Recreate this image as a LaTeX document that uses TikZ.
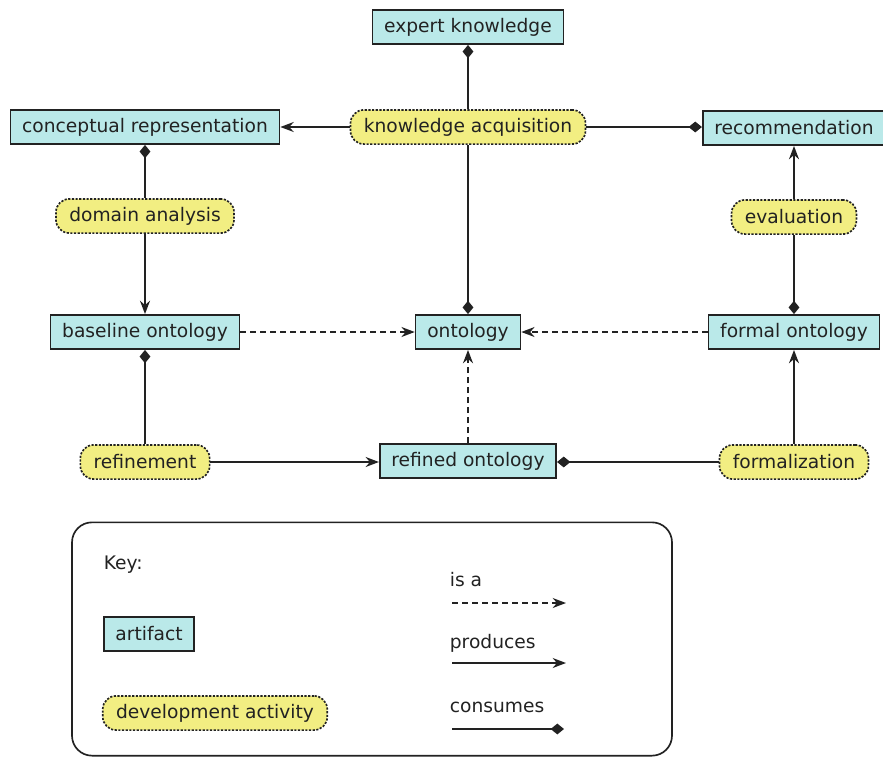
\documentclass[tikz,border=0pt]{standalone}
\usepackage{fontspec}
\setmainfont{DejaVu Sans}
\usepackage{tikz}
\usetikzlibrary{arrows.meta, positioning}
\definecolor{artfill}{HTML}{BAE9E9}
\definecolor{actfill}{HTML}{F2EE82}
\definecolor{linecol}{HTML}{222222}

\begin{document}
\begin{tikzpicture}[x=0.6pt, y=-0.6pt,
    artifact/.style={rectangle, draw=linecol, fill=artfill, line width=1pt,
      minimum height=20.5pt, inner xsep=7pt, text=linecol,
      font=\fontsize{11.2}{13}\selectfont},
    activity/.style={rectangle, rounded corners=8pt, draw=linecol, fill=actfill,
      line width=1pt, dash pattern=on 1.3pt off 0.9pt, minimum height=20.5pt,
      inner xsep=8pt, text=linecol, font=\fontsize{11.2}{13}\selectfont},
    keytext/.style={anchor=west, text=linecol, font=\fontsize{11.2}{13}\selectfont},
    produces/.style={linecol, line width=1.1pt, -{Stealth[length=8pt, width=6pt]}},
    consumes/.style={linecol, line width=1.1pt, -{Diamond[length=8pt, width=6.5pt]}},
    isa/.style={linecol, line width=1.1pt, dash pattern=on 3.5pt off 2.5pt,
      -{Stealth[length=8pt, width=6pt]}}]
  \useasboundingbox (0,0) rectangle (883,757);
  % artifacts
  \node[artifact] (expert) at (468,27) {expert knowledge};
  \node[artifact] (concept) at (145,127) {conceptual representation};
  \node[artifact] (recom) at (794,128) {recommendation};
  \node[artifact] (baseline) at (145,332) {baseline ontology};
  \node[artifact] (onto) at (468,332) {ontology};
  \node[artifact] (formal) at (794,332) {formal ontology};
  \node[artifact] (refined) at (468,461) {refined ontology};
  % development activities
  \node[activity] (acq) at (468,127) {knowledge acquisition};
  \node[activity] (domain) at (145,216) {domain analysis};
  \node[activity] (eval) at (794,217) {evaluation};
  \node[activity] (refine) at (145,462) {refinement};
  \node[activity] (formalize) at (794,462) {formalization};
  % produces / consumes
  \draw[consumes] (acq) -- (expert);
  \draw[produces] (acq) -- (concept);
  \draw[consumes] (acq) -- (recom.west |- acq);
  \draw[consumes] (acq) -- (onto);
  \draw[consumes] (domain) -- (concept);
  \draw[produces] (domain) -- (baseline);
  \draw[consumes] (eval) -- (formal);
  \draw[produces] (eval) -- (recom);
  \draw[consumes] (refine) -- (baseline);
  \draw[produces] (refine) -- (refined.west |- refine);
  \draw[consumes] (formalize) -- (refined.east |- formalize);
  \draw[produces] (formalize) -- (formal);
  % is-a relations
  \draw[isa] (baseline) -- (onto);
  \draw[isa] (formal) -- (onto);
  \draw[isa] (refined) -- (onto);
  % key
  \node[draw=linecol, line width=1pt, rounded corners=12pt, minimum width=360pt,
    minimum height=140pt] (keybox) at (372,639) {};
  \node[keytext] (keylbl) at (98,565) {Key:};
  \node[artifact] (keyart) at (149,634) {artifact};
  \node[activity] (keyact) at (215,713) {development activity};
  \node[keytext] (isalbl) at (444,580) {is a};
  \node[keytext] (prodlbl) at (444,643) {produces};
  \node[keytext] (conslbl) at (444,707) {consumes};
  \coordinate (isa0) at (452,603);
  \coordinate (isa1) at (566,603);
  \coordinate (prod0) at (452,663);
  \coordinate (prod1) at (566,663);
  \coordinate (cons0) at (452,729);
  \coordinate (cons1) at (564,729);
  \draw[isa] (isa0) -- (isa1);
  \draw[produces] (prod0) -- (prod1);
  \draw[consumes] (cons0) -- (cons1);
\end{tikzpicture}
\end{document}
